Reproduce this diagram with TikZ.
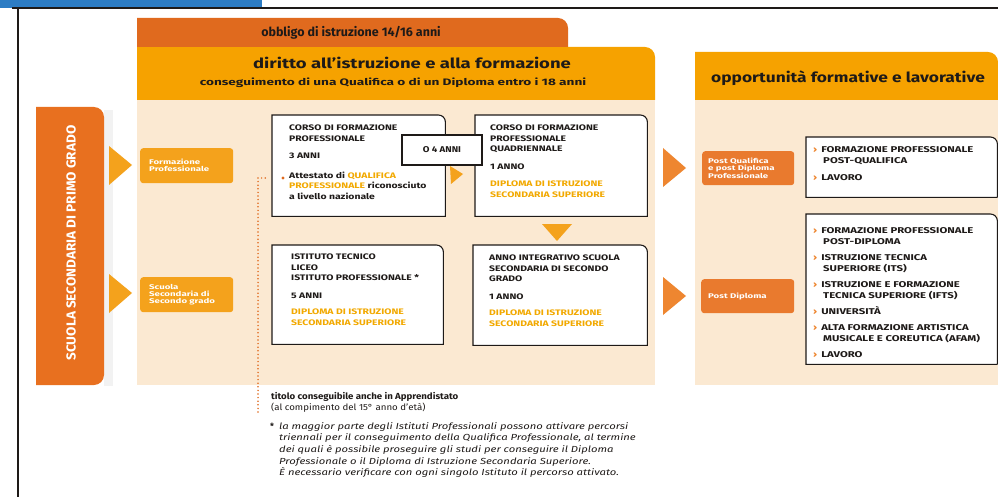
\documentclass[tikz,border=0pt]{standalone}
\usepackage{fontspec}
\setmainfont{Fira Sans}
\definecolor{obbl}{HTML}{E06A1E}
\definecolor{dir}{HTML}{F6A200}
\definecolor{beige}{HTML}{FBE9D2}
\definecolor{barc}{HTML}{E8701F}
\definecolor{smallbox}{HTML}{F4A21C}
\definecolor{rightbox}{HTML}{E97A2E}
\definecolor{otext}{HTML}{F2A900}
\definecolor{blueb}{HTML}{2C7CC4}
\definecolor{ink}{HTML}{1E1A18}
\definecolor{rtri}{HTML}{EE8630}
\newcommand\fs[1]{\addfontfeatures{FakeStretch=#1}}
\tikzset{
  boxframe/.style={draw=none, minimum width=#1, anchor=north west, inner sep=0pt},
  boxline/.style={draw=ink, line width=1.1pt, fill=white},
  btext/.style={anchor=north west, align=left, inner sep=0pt, text=ink, font=\fontsize{8}{10.5}\selectfont\bfseries\fs{1.3}},
  rtext/.style={anchor=north west, align=left, inner sep=0pt, text=ink, font=\fontsize{8.4}{11}\selectfont\bfseries\fs{1.35}},
  sbox/.style={fill=#1, rounded corners=3pt, anchor=north west, inner sep=0pt},
  stext/.style={anchor=west, align=left, inner sep=0pt, text=white, font=\fontsize{6.8}{7}\selectfont\bfseries\fs{1.42}},
  head/.style={inner sep=0pt, text=ink},
  notetext/.style={anchor=north west, align=left, inner sep=0pt, text=ink},
  dotline/.style={draw=obbl, line width=1.7pt, dash pattern=on 0pt off 3.6pt, line cap=round},
}
\newcommand\ot[1]{\textcolor{otext}{#1}}
\newcommand\ar{\textcolor{rtri}{›}\hspace{4pt}}
\begin{document}
\begin{tikzpicture}[x=1pt,y=-1pt]
\useasboundingbox (0,0) rectangle (998,497);
\fill[white] (0,0) rectangle (998,497);
% blue band and frame
\fill[blueb] (0,0) rectangle (262,8);
\draw[ink, line width=1.4pt] (12,8) -- (998,8);
\draw[ink, line width=1.4pt] (18,8) -- (18,497);
% panels
\fill[beige] (137,100) rectangle (655,385);
\fill[beige] (695,100) rectangle (998,385);
% header bands
\fill[dir] (137,100) -- (137,47) -- (645,47) arc[start angle=90,end angle=0,radius=10pt] -- (655,100) -- cycle;
\fill[obbl] (137,47) -- (137,18) -- (558,18) arc[start angle=90,end angle=0,radius=10pt] -- (568,47) -- cycle;
\fill[dir] (695,100) -- (695,52) -- (988,52) arc[start angle=90,end angle=0,radius=10pt] -- (998,100) -- cycle;
\node[head, font=\fontsize{12.5}{13}\selectfont\bfseries] (obt) at (351,33) {obbligo di istruzione 14/16 anni};
\node[head, font=\fontsize{14}{15}\selectfont\bfseries\fs{1.32}] (dirt) at (412,63) {diritto all’istruzione e alla formazione};
\node[head, font=\fontsize{9.4}{10}\selectfont\bfseries\fs{1.45}] (dirs) at (393,83) {conseguimento di una Qualifica o di un Diploma entro i 18 anni};
\node[head, font=\fontsize{14}{15}\selectfont\bfseries\fs{1.24}] (opt) at (848,78) {opportunità formative e lavorative};
% left bar
\fill[gray!10] (104,110) rectangle (113,386);
\fill[barc] (36,107) -- (94,107) arc[start angle=90,end angle=0,radius=10pt] -- (104,375) arc[start angle=0,end angle=-90,radius=10pt] -- (36,385) -- cycle;
\node[rotate=90, text=white, inner sep=0pt, font=\fontsize{13}{14}\selectfont\bfseries\fs{1.04}] (bart) at (71,243) {SCUOLA SECONDARIA DI PRIMO GRADO};
% left triangles
\fill[smallbox] (109,146) -- (132,165) -- (109,185) -- cycle;
\fill[smallbox] (109,274) -- (132,293) -- (109,313) -- cycle;
% small orange boxes
\node[sbox=smallbox, minimum width=93pt, minimum height=35pt] (fp) at (140,148) {};
\node[stext] (fpt) at (149,165.5) {Formazione\\Professionale};
\node[sbox=smallbox, minimum width=93pt, minimum height=35pt] (ss) at (140,277) {};
\node[stext] (sst) at (149,294.5) {Scuola\\Secondaria di\\Secondo grado};
% dotted line
\coordinate (dtop) at (258,178);
\coordinate (dbot) at (258,412);
\coordinate (dend) at (268,178);
\draw[dotline] (dbot) -- (dtop) -- (dend);
% box 1
\node[boxframe=173pt, minimum height=101pt] (b1) at (272,115) {};
\draw[boxline] (b1.south west) -- (b1.north west) -- ([xshift=-7pt]b1.north east) arc[start angle=90,end angle=0,radius=7pt] -- (b1.south east) -- cycle;
\node[btext] (b1t) at (289,125) {CORSO DI FORMAZIONE\\PROFESSIONALE\\[7pt]3 ANNI\\[9pt]Attestato di \ot{QUALIFICA}\\\ot{PROFESSIONALE} riconosciuto\\a livello nazionale};
\fill[obbl] (283,178) circle (1.6pt);
% small arrow between box1 and box2
\fill[smallbox] (450,166) -- (463,174) -- (451,184) -- cycle;
% box 2
\node[boxframe=172pt, minimum height=101pt] (b2) at (475,115) {};
\draw[boxline] (b2.south west) -- (b2.north west) -- ([xshift=-7pt]b2.north east) arc[start angle=90,end angle=0,radius=7pt] -- (b2.south east) -- cycle;
\node[btext] (b2t) at (490,125) {CORSO DI FORMAZIONE\\PROFESSIONALE\\QUADRIENNALE\\[7pt]1 ANNO\\[7pt]\ot{DIPLOMA DI ISTRUZIONE}\\\ot{SECONDARIA SUPERIORE}};
% O 4 ANNI
\node[draw=ink, line width=1.1pt, fill=white, minimum width=80pt, minimum height=30pt, inner sep=0pt, text=ink, font=\fontsize{8.4}{9}\selectfont\bfseries\fs{1.15}] (o4) at (442,150) {O 4 ANNI};
% down arrow
\fill[smallbox] (542,224) -- (572,224) -- (557,241) -- cycle;
% box 3
\node[boxframe=171pt, minimum height=99pt] (b3) at (272,245) {};
\draw[boxline] (b3.south west) -- (b3.north west) -- ([xshift=-7pt]b3.north east) arc[start angle=90,end angle=0,radius=7pt] -- (b3.south east) -- cycle;
\node[btext] (b3t) at (291,254) {ISTITUTO TECNICO\\LICEO\\ISTITUTO PROFESSIONALE *\\[7pt]5 ANNI\\[6pt]\ot{DIPLOMA DI ISTRUZIONE}\\\ot{SECONDARIA SUPERIORE}};
% box 4
\node[boxframe=174pt, minimum height=100pt] (b4) at (473,245) {};
\draw[boxline] (b4.south west) -- (b4.north west) -- ([xshift=-7pt]b4.north east) arc[start angle=90,end angle=0,radius=7pt] -- (b4.south east) -- cycle;
\node[btext] (b4t) at (489,255) {ANNO INTEGRATIVO SCUOLA\\SECONDARIA DI SECONDO\\GRADO\\[7pt]1 ANNO\\[6pt]\ot{DIPLOMA DI ISTRUZIONE}\\\ot{SECONDARIA SUPERIORE}};
% right triangles
\fill[rtri] (663,148) -- (686,168) -- (663,187) -- cycle;
\fill[rtri] (663,277) -- (686,296) -- (663,315) -- cycle;
% right small boxes
\node[sbox=rightbox, minimum width=92pt, minimum height=34pt] (pq) at (702,151) {};
\node[stext] (pqt) at (708,168) {Post Qualifica\\e post Diploma\\Professionale};
\node[sbox=rightbox, minimum width=93pt, minimum height=34pt] (pd) at (701,279) {};
\node[stext] (pdt) at (708,296) {Post Diploma};
% right box A
\node[boxframe=191pt, minimum height=60pt] (ra) at (806,137) {};
\draw[boxline] (ra.south east) -- (ra.south west) -- (ra.north west) -- ([xshift=-7pt]ra.north east) arc[start angle=90,end angle=0,radius=7pt] -- (ra.south east);
\node[rtext] (rat) at (813,146) {\ar FORMAZIONE PROFESSIONALE\\\hspace*{10pt}POST-QUALIFICA\\[6pt]\ar LAVORO};
% right box B
\node[boxframe=191pt, minimum height=150pt] (rb) at (806,214) {};
\draw[boxline] (rb.south east) -- (rb.south west) -- (rb.north west) -- ([xshift=-7pt]rb.north east) arc[start angle=90,end angle=0,radius=7pt] -- (rb.south east);
\node[rtext] (rbt) at (813,227) {\ar FORMAZIONE PROFESSIONALE\\\hspace*{10pt}POST-DIPLOMA\\[5pt]\ar ISTRUZIONE TECNICA\\\hspace*{10pt}SUPERIORE (ITS)\\[5pt]\ar ISTRUZIONE E FORMAZIONE\\\hspace*{10pt}TECNICA SUPERIORE (IFTS)\\[5pt]\ar UNIVERSITÀ\\[5pt]\ar ALTA FORMAZIONE ARTISTICA\\\hspace*{10pt}MUSICALE E COREUTICA (AFAM)\\[5pt]\ar LAVORO};
% notes
\node[notetext, font=\fontsize{8.8}{10.8}\selectfont\fs{1.1}] (n1) at (271,392) {\textbf{titolo conseguibile anche in Apprendistato}\\(al compimento del 15° anno d’età)};
\node[notetext, font=\fontsize{8.8}{11.7}\selectfont\itshape\fs{1.28}] (n2) at (279,422) {la maggior parte degli Istituti Professionali possono attivare percorsi\\triennali per il conseguimento della Qualifica Professionale, al termine\\dei quali è possibile proseguire gli studi per conseguire il Diploma\\Professionale o il Diploma di Istruzione Secondaria Superiore.\\È necessario verificare con ogni singolo Istituto il percorso attivato.};
\node[notetext, font=\fontsize{8.6}{11}\selectfont\bfseries] (ast) at (270,423) {*};
\end{tikzpicture}
\end{document}
